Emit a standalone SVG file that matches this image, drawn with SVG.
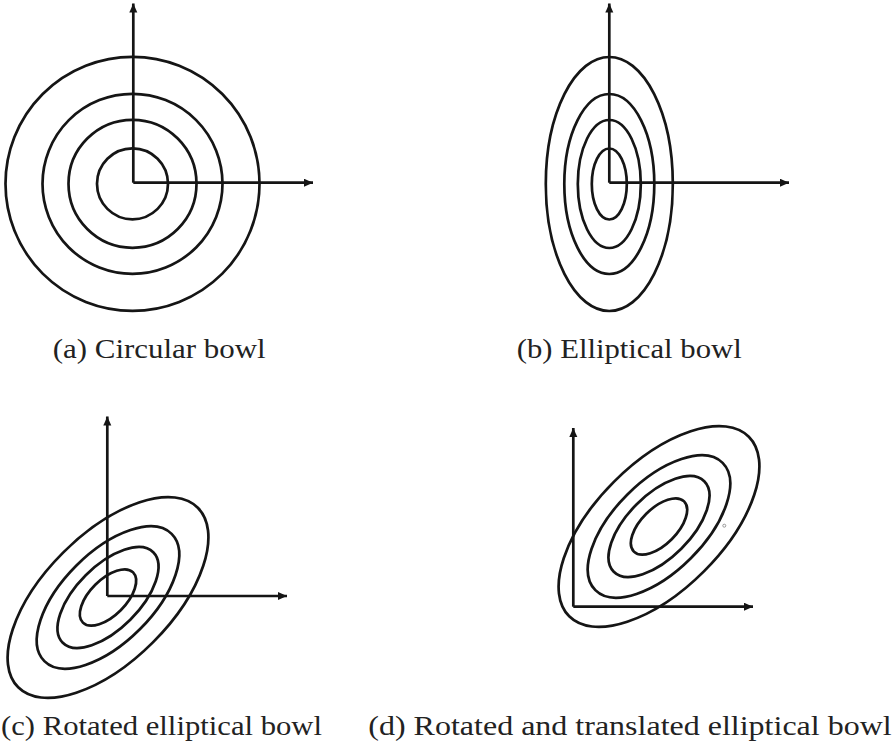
<svg xmlns="http://www.w3.org/2000/svg" width="895" height="749" viewBox="0 0 895 749">
<style>
.c{fill:none;stroke:#151515;stroke-width:2.7}
.ax{fill:none;stroke:#151515;stroke-width:2.7;marker-end:url(#ah)}
.lbl{font-family:"Liberation Serif","Times New Roman",serif;font-size:28px;fill:#222}
</style>
<defs>
<marker id="ah" markerUnits="userSpaceOnUse" markerWidth="12" markerHeight="10" refX="9" refY="4" orient="auto">
<path d="M0,0 L9,4 L0,8 Z" fill="#151515"/>
</marker>
</defs>
<rect width="895" height="749" fill="#fff"/>
<g id="panel-a">
<g transform="translate(132.5,183.8)">
<circle class="c" r="127"/>
<circle class="c" r="90"/>
<circle class="c" r="64"/>
<circle class="c" r="35.5"/>
</g>
</g>
<g id="panel-b">
<g transform="translate(609.3,184)">
<ellipse class="c" rx="63.5" ry="127"/>
<ellipse class="c" rx="45" ry="90"/>
<ellipse class="c" rx="31.5" ry="64"/>
<ellipse class="c" rx="17.5" ry="35.5"/>
</g>
</g>
<g id="panel-c">
<g transform="translate(108,597.5) rotate(-45)">
<ellipse class="c" rx="127" ry="63.5"/>
<ellipse class="c" rx="90" ry="45"/>
<ellipse class="c" rx="64" ry="31.5"/>
<ellipse class="c" rx="35.5" ry="18"/>
</g>
</g>
<g id="panel-d">
<g transform="translate(659,526.5) rotate(-45)">
<ellipse class="c" rx="127" ry="63.5"/>
<ellipse class="c" rx="90" ry="45"/>
<ellipse class="c" rx="64" ry="31.5"/>
<ellipse class="c" rx="35.5" ry="18"/>
</g>
<circle cx="724.3" cy="525.7" r="1.5" fill="none" stroke="#999" stroke-width="1"/>
</g>
<g id="connectors">
<path class="ax" d="M133.3,182.7 V3.5"/>
<path class="ax" d="M133.3,182.7 H313"/>
<path class="ax" d="M609.3,182.7 V3.5"/>
<path class="ax" d="M609.3,182.7 H789"/>
<path class="ax" d="M107.3,596 V416.5"/>
<path class="ax" d="M107.3,596 H287"/>
<path class="ax" d="M573.3,606.7 V428"/>
<path class="ax" d="M573.3,606.7 H753"/>
</g>
<g id="labels">
<text class="lbl" x="52.7" y="358" textLength="213" lengthAdjust="spacingAndGlyphs">(a) Circular bowl</text>
<text class="lbl" x="516.7" y="358" textLength="225" lengthAdjust="spacingAndGlyphs">(b) Elliptical bowl</text>
<text class="lbl" x="1" y="735" textLength="321" lengthAdjust="spacingAndGlyphs">(c) Rotated elliptical bowl</text>
<text class="lbl" x="368.3" y="735" textLength="523.4" lengthAdjust="spacingAndGlyphs">(d) Rotated and translated elliptical bowl</text>
</g>
</svg>
